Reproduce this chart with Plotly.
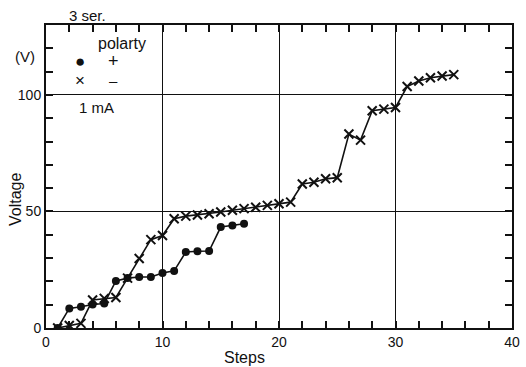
import plotly.graph_objects as go

# polarity + (dots)
steps_pos = list(range(1, 18))
volt_pos = [0, 8.4, 9.1, 10.1, 10.5, 20.2, 21.4, 21.9, 21.9, 23.6, 24.5,
            32.6, 32.9, 33.0, 43.3, 44.0, 44.7]

# polarity - (crosses)
steps_neg = list(range(1, 36))
volt_neg = [0, 1.1, 2.0, 12.0, 12.7, 13.1, 21.4, 29.8, 37.9, 39.7, 46.9,
            48.0, 48.5, 49.0, 49.8, 50.5, 51.2, 51.8, 52.6, 53.3, 54.0,
            61.8, 62.5, 64.0, 64.5, 83.2, 80.6, 93.2, 93.9, 94.6, 103.6,
            106.0, 107.4, 108.1, 108.7]

x_ticks = [0, 10, 20, 30, 40]
y_ticks = [0, 50, 100]

FONT = "Liberation Sans"
INK = "#111111"

fig = go.Figure()
fig.add_trace(go.Scatter(x=steps_pos, y=volt_pos, mode="lines+markers",
                         line=dict(color=INK, width=1.6),
                         marker=dict(symbol="circle", size=8, color=INK),
                         showlegend=False, hoverinfo="skip"))
fig.add_trace(go.Scatter(x=steps_neg, y=volt_neg, mode="lines+markers",
                         line=dict(color=INK, width=1.6),
                         marker=dict(symbol="x-thin", size=9,
                                     line=dict(color=INK, width=2)),
                         showlegend=False, hoverinfo="skip"))
# carrier for the mirrored (top/right) tick axes
fig.add_trace(go.Scatter(x=[None], y=[None], xaxis="x2", yaxis="y2",
                         showlegend=False, hoverinfo="skip"))

axis_common = dict(showline=True, linewidth=2, linecolor=INK,
                   ticks="inside", ticklen=7, tickwidth=1.5, tickcolor=INK,
                   showgrid=True, gridcolor=INK, gridwidth=1.3, zeroline=False,
                   automargin=False,
                   tickfont=dict(family=FONT, size=14, color=INK))

fig.update_layout(
    xaxis=dict(range=[0, 40], tickvals=x_ticks,
               minor=dict(dtick=2, ticks="inside", ticklen=7, tickwidth=1.5,
                          tickcolor=INK, showgrid=False),
               **axis_common),
    yaxis=dict(range=[0, 130], tickvals=y_ticks,
               minor=dict(dtick=10, ticks="inside", ticklen=7, tickwidth=1.5,
                          tickcolor=INK, showgrid=False),
               **axis_common),
    xaxis2=dict(range=[0, 40], overlaying="x", side="top", anchor="y",
                showline=True, linewidth=2, linecolor=INK,
                ticks="inside", ticklen=7, tickwidth=1.5, tickcolor=INK,
                dtick=2, tick0=0, showticklabels=False, showgrid=False,
                zeroline=False, automargin=False),
    yaxis2=dict(range=[0, 130], overlaying="y", side="right", anchor="x",
                showline=True, linewidth=2, linecolor=INK,
                ticks="inside", ticklen=7, tickwidth=1.5, tickcolor=INK,
                dtick=10, tick0=0, showticklabels=False, showgrid=False,
                zeroline=False, automargin=False),
)

def note(text, x, y, size=15, xanchor="center", angle=0):
    fig.add_annotation(text=text, x=x, y=y, xref="paper", yref="paper",
                       showarrow=False, xanchor=xanchor, yanchor="middle",
                       textangle=angle,
                       font=dict(family=FONT, size=size, color=INK))

# paper coords: plot area px x 46..512, y 25..328
def px(xp):
    return (xp - 46) / (512 - 46)

def py(yp):
    return (328 - yp) / (328 - 25)

note("Steps", px(244), py(357), size=16)
note("Voltage", px(15), py(200), size=16, angle=-90)
note("3 ser.", px(87), py(15), size=15)
note("(V)", px(25), py(57), size=15)
note("polarty", px(122), py(43), size=16)
note("●", px(80), py(61), size=17)
note("+", px(113), py(61), size=18)
note("×", px(80), py(80), size=17)
note("–", px(113), py(80), size=15)
note("1 mA", px(96), py(107), size=15)

fig.update_layout(width=526, height=367,
                  margin=dict(l=46, r=14, t=25, b=39),
                  paper_bgcolor="white", plot_bgcolor="white",
                  font=dict(family=FONT, color=INK))

fig.write_html("out.html", config={"displayModeBar": False},
               post_script="document.body.style.margin='0';document.body.style.overflow='hidden';")
